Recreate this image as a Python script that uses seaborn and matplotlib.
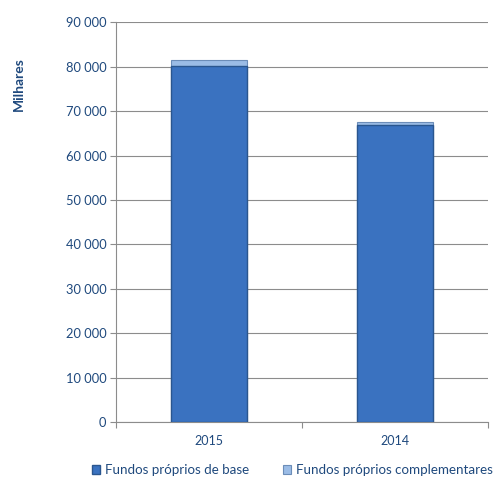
import pandas as pd
import matplotlib.pyplot as plt
import matplotlib.ticker as mticker
import seaborn as sns

years = ["2015", "2014"]
base_funds = [80200, 66800]
complementary_funds = [1200, 700]

label_color = "#1F497D"


def main():
    df = pd.DataFrame({"year": years, "base": base_funds, "comp": complementary_funds})
    df["total"] = df["base"] + df["comp"]

    sns.set_theme(style="white")
    plt.rcParams["font.family"] = ["Lato", "DejaVu Sans"]

    fig = plt.figure(figsize=(4.99, 4.83), dpi=100)
    ax = fig.add_axes([0.2325, 0.126, 0.7455, 0.828])

    sns.barplot(data=df, x="year", y="total", order=years, color="#9BBCE6",
                width=0.41, edgecolor="#6C8DB8", linewidth=0.8, ax=ax,
                saturation=1, label="Fundos próprios complementares", zorder=3)
    sns.barplot(data=df, x="year", y="base", order=years, color="#3A72C0",
                width=0.41, edgecolor="#2A568F", linewidth=1.0, ax=ax,
                saturation=1, label="Fundos próprios de base", zorder=4)

    ax.set_ylim(0, 90000)
    ax.set_xlim(-0.5, 1.5)
    ax.yaxis.set_major_locator(mticker.MultipleLocator(10000))
    ax.yaxis.set_major_formatter(
        mticker.FuncFormatter(lambda v, p: f"{int(v):,}".replace(",", " ")))
    ax.grid(axis="y", color="#8C8C8C", linewidth=0.8, zorder=0)
    ax.set_axisbelow(True)

    for side in ["top", "right"]:
        ax.spines[side].set_visible(False)
    for side in ["left", "bottom"]:
        ax.spines[side].set_color("#8C8C8C")
        ax.spines[side].set_linewidth(0.8)

    ax.tick_params(axis="both", direction="out", length=4, width=0.8,
                   color="#8C8C8C", labelsize=9.3, labelcolor=label_color,
                   left=True, bottom=True, pad=3)
    ax.set_xticks([-0.5, 0.5, 1.5], minor=False)
    ax.set_xticks([0, 1], minor=True)
    ax.set_xticklabels(["", "", ""])
    ax.set_xticklabels(years, minor=True)
    ax.tick_params(axis="x", which="minor", length=0, labelsize=9,
                   labelcolor=label_color, pad=9)

    ax.set_xlabel("")
    ax.set_ylabel("Milhares", fontsize=10, fontweight="bold", color=label_color)
    ax.yaxis.set_label_coords(-0.245, 0.845)

    handles, labels = ax.get_legend_handles_labels()
    order = [labels.index("Fundos próprios de base"),
             labels.index("Fundos próprios complementares")]
    ax.legend([handles[i] for i in order], [labels[i] for i in order],
              loc="center", bbox_to_anchor=(0.474, -0.12),
              bbox_transform=ax.transAxes, ncol=2, frameon=False, fontsize=9.6,
              handlelength=0.6, handleheight=0.6, handletextpad=0.35,
              columnspacing=2.6, labelcolor=label_color)

    fig.savefig("out.png", dpi=100)


if __name__ == "__main__":
    main()
